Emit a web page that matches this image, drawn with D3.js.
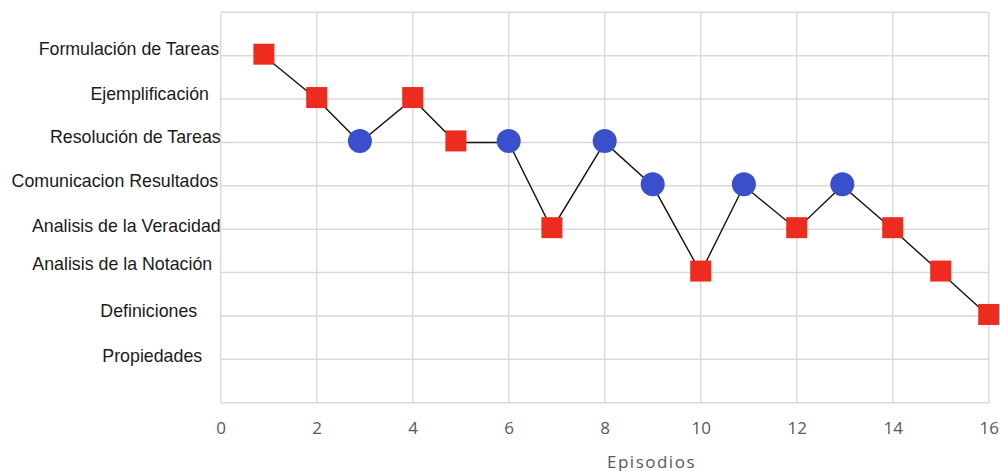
<!DOCTYPE html>
<html><head><meta charset="utf-8">
<script src="https://cdn.jsdelivr.net/npm/d3@7"></script>
<style>html,body{margin:0;padding:0;background:#fff;}svg{display:block;}</style>
</head><body>
<svg id="chart" width="1000" height="471"></svg>
<script>
// ---- data ----
const categories = ["Propiedades","Definiciones","Analisis de la Notación","Analisis de la Veracidad",
  "Comunicacion Resultados","Resolución de Tareas","Ejemplificación","Formulación de Tareas"]; // levels 1..8
const episodes = [0.9, 2, 2.9, 4, 4.9, 6, 6.9, 8, 9, 10, 10.9, 12, 12.95, 14, 15, 16];
const levels   = [8, 7, 6, 7, 6, 6, 4, 6, 5, 3, 5, 4, 5, 4, 3, 2];
const shapes   = ["s","s","c","s","s","c","s","c","c","s","c","s","c","s","s","s"];
const xTicks = [0, 2, 4, 6, 8, 10, 12, 14, 16];
const xTitle = "Episodios";

// ---- layout ----
const svg = d3.select("#chart");
const x = d3.scaleLinear().domain([0, 16]).range([220.7, 988.7]);
const y = d3.scaleLinear().domain([0, 9]).range([402.7, 12.3]);
const grid = "#d9d9d9";

// grid lines
svg.append("g").selectAll("line").data(d3.range(0, 10)).join("line")
  .attr("x1", x(0)).attr("x2", x(16)).attr("y1", d => y(d)).attr("y2", d => y(d))
  .attr("stroke", grid).attr("stroke-width", 1.4);
svg.append("g").selectAll("line").data(xTicks).join("line")
  .attr("x1", d => x(d)).attr("x2", d => x(d)).attr("y1", y(0)).attr("y2", y(9))
  .attr("stroke", grid).attr("stroke-width", 1.4);

// x axis tick labels
const xAxis = d3.axisBottom(x).tickValues(xTicks).tickSize(0).tickPadding(0);
const gx = svg.append("g").attr("transform", `translate(0,${y(0)})`).call(xAxis);
gx.select(".domain").remove();
gx.selectAll("text").attr("dy", null).attr("y", 31.5)
  .attr("font-family", "'Open Sans', sans-serif").attr("font-size", 17).attr("fill", "#595959");

svg.append("text").attr("x", 607).attr("y", 467.5).text(xTitle)
  .attr("font-family", "'Open Sans', sans-serif").attr("font-size", 17)
  .attr("letter-spacing", 1.5).attr("fill", "#595959");

// y category labels (placed individually as in the source)
const nudgeX = [-18.5, -23.5, -8.5, 0, -2.5, 0, -11.7, -1.5];
const nudgeY = [2.7, 0.6, -2.3, 2.4, 1, 0.7, 1.3, -0.7];
svg.append("g").selectAll("text").data(categories).join("text")
  .attr("x", (d, i) => x(0) + nudgeX[i])
  .attr("y", (d, i) => y(i + 1) + nudgeY[i])
  .attr("text-anchor", "end")
  .attr("font-family", "'Liberation Sans', Arial, sans-serif").attr("font-size", 17.8)
  .attr("fill", "#1a1a1a").text(d => d);

// line
const pts = episodes.map((e, i) => ({x: e, y: levels[i], s: shapes[i]}));
svg.append("path").datum(pts)
  .attr("d", d3.line().x(d => x(d.x)).y(d => y(d.y)))
  .attr("fill", "none").attr("stroke", "#111").attr("stroke-width", 1.4);

// markers
const sq = 21;
svg.append("g").selectAll("rect").data(pts.filter(d => d.s === "s")).join("rect")
  .attr("x", d => x(d.x) - sq / 2).attr("y", d => y(d.y) - sq / 2 - 1.5)
  .attr("width", sq).attr("height", sq).attr("fill", "#ee2b1f");
svg.append("g").selectAll("circle").data(pts.filter(d => d.s === "c")).join("circle")
  .attr("cx", d => x(d.x)).attr("cy", d => y(d.y) - 1.5).attr("r", 12)
  .attr("fill", "#3a4fcb");
</script>
</body></html>
